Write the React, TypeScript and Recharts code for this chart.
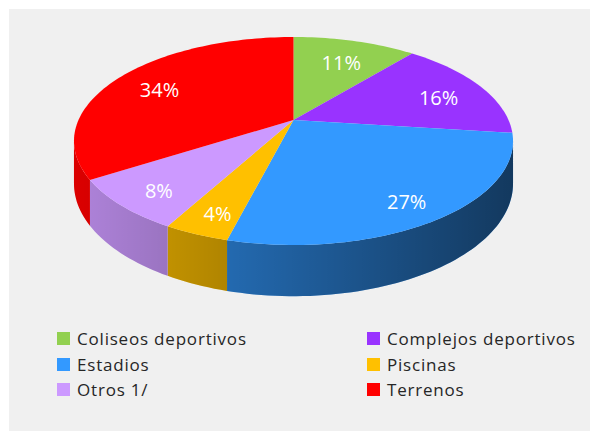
import React from 'react';
import { PieChart, Pie, Cell, Legend } from 'recharts';

const categories = ['Coliseos deportivos', 'Complejos deportivos', 'Estadios', 'Piscinas', 'Otros 1/', 'Terrenos'];
const shares = [11, 16, 27, 4, 8, 34];
const percentLabels = ['11%', '16%', '27%', '4%', '8%', '34%'];
const colors = ['#92d050', '#9933ff', '#3399ff', '#ffc000', '#cc99ff', '#ff0000'];

const data = categories.map((name, i) => ({ name, value: shares[i], label: percentLabels[i] }));

// 3D look parameters (fractions of the pie radius)
const TILT = 0.464;
const PERSP = 0.202;
const DEPTH = 0.19;
const LABEL_T = 0.78;
const FONT = '"Open Sans", "Noto Sans", sans-serif';

function project(cx: number, cy: number, R: number, angDeg: number, r: number, h: number): [number, number] {
  const a = (angDeg * Math.PI) / 180;
  const u = Math.cos(a) * r;
  const v = Math.sin(a) * r;
  const w = 1 + PERSP * v;
  return [cx + (R * u) / w, cy - (R * TILT * v) / w + (R * DEPTH * h) / w];
}

function arcPoints(cx: number, cy: number, R: number, a0: number, a1: number, h: number) {
  const n = Math.max(2, Math.ceil(Math.abs(a1 - a0) / 1.5) + 1);
  const pts: [number, number][] = [];
  for (let i = 0; i < n; i++) {
    const a = a0 + ((a1 - a0) * i) / (n - 1);
    pts.push(project(cx, cy, R, a, 1, h));
  }
  return pts;
}

function toPath(pts: [number, number][]) {
  return pts.map((p, i) => `${i === 0 ? 'M' : 'L'}${p[0].toFixed(2)},${p[1].toFixed(2)}`).join(' ') + ' Z';
}

const renderFace = (p: any) => {
  const { cx, cy, outerRadius, startAngle, endAngle, index } = p;
  const R = outerRadius;
  const fill = colors[index];
  const lo = Math.min(startAngle, endAngle);
  const hi = Math.max(startAngle, endAngle);
  const s = (Math.asin(PERSP) * 180) / Math.PI;
  const walls: string[] = [];
  for (let m = -2; m <= 2; m++) {
    const vlo = -180 + s + 360 * m;
    const vhi = -s + 360 * m;
    const a = Math.max(lo, vlo);
    const b = Math.min(hi, vhi);
    if (b > a) {
      const top = arcPoints(cx, cy, R, a, b, 0);
      const bottom = arcPoints(cx, cy, R, b, a, 1);
      walls.push(toPath([...top, ...bottom]));
    }
  }
  const topFace = toPath([[cx, cy], ...arcPoints(cx, cy, R, startAngle, endAngle, 0)]);
  return (
    <g key={`face-${index}`}>
      {walls.map((d, i) => (
        <g key={i}>
          <path d={d} fill={fill} fillOpacity={1} stroke="none" />
          <path d={d} fill="url(#wallShade)" fillOpacity={1} stroke="none" />
        </g>
      ))}
      <path d={topFace} fill={fill} fillOpacity={1} stroke="none" />
    </g>
  );
};

const renderText = (p: any) => {
  const { cx, cy, outerRadius, midAngle, index } = p;
  const R = outerRadius;
  const rim = project(cx, cy, R, midAngle, 1, 0);
  const x = cx + LABEL_T * (rim[0] - cx);
  const y = cy + LABEL_T * (rim[1] - cy) + R * DEPTH * 0.1;
  return (
    <text
      key={`t-${index}`}
      x={x}
      y={y}
      textAnchor="middle"
      dominantBaseline="central"
      fill="#ffffff"
      fontFamily={FONT}
      fontSize={20}
    >
      {data[index].label}
    </text>
  );
};

const renderLegend = (props: any) => {
  const raw = props.payload || [];
  const seen = new Set<string>();
  const payload = raw
    .filter((item: any) => {
      if (item.type === 'none') return false;
      if (!categories.includes(item.value)) return false;
      if (seen.has(item.value)) return false;
      seen.add(item.value);
      return true;
    })
    .sort((a: any, b: any) => categories.indexOf(a.value) - categories.indexOf(b.value));
  return (
    <div
      style={{
        display: 'grid',
        gridTemplateColumns: '310px 230px',
        paddingLeft: 48,
        fontFamily: FONT,
        fontSize: 17,
        letterSpacing: 0.8,
        color: '#262626',
      }}
    >
      {payload.map((item: any, i: number) => (
        <div key={i} style={{ display: 'flex', alignItems: 'center', height: 25.5 }}>
          <span
            style={{
              display: 'inline-block',
              width: 13,
              height: 13,
              background: colors[categories.indexOf(item.value)],
              marginRight: 7,
            }}
          />
          <span>{item.value}</span>
        </div>
      ))}
    </div>
  );
};

export default function App() {
  return (
    <div style={{ paddingTop: 9, paddingLeft: 9 }}>
      <style>{'body{margin:0;overflow:hidden}'}</style>
      <div style={{ width: 581, height: 422, background: '#f0f0f0' }}>
        <PieChart width={581} height={422} margin={{ top: 0, right: 0, bottom: 0, left: 0 }}>
          <defs>
            <linearGradient id="wallShade" gradientUnits="userSpaceOnUse" x1={65} y1={0} x2={505} y2={0}>
              <stop offset="0" stopColor="#000" stopOpacity={0.14} />
              <stop offset="1" stopColor="#000" stopOpacity={0.63} />
            </linearGradient>
          </defs>
          <Pie
            data={data}
            dataKey="value"
            nameKey="name"
            cx={284.5}
            cy={111}
            outerRadius={215}
            startAngle={90}
            endAngle={-270}
            fillOpacity={0}
            stroke="none"
            label={renderFace}
            labelLine={false}
            isAnimationActive={false}
          >
            {data.map((d, i) => (
              <Cell key={d.name} fill={colors[i]} />
            ))}
          </Pie>
          <Pie
            data={data}
            dataKey="value"
            nameKey="name"
            cx={284.5}
            cy={111}
            outerRadius={215}
            startAngle={90}
            endAngle={-270}
            fillOpacity={0}
            stroke="none"
            label={renderText}
            labelLine={false}
            legendType="none"
            isAnimationActive={false}
          />
          <Legend
            verticalAlign="bottom"
            content={renderLegend}
            wrapperStyle={{ top: 317, left: 0, bottom: 'auto', width: 581 }}
          />
        </PieChart>
      </div>
    </div>
  );
}
